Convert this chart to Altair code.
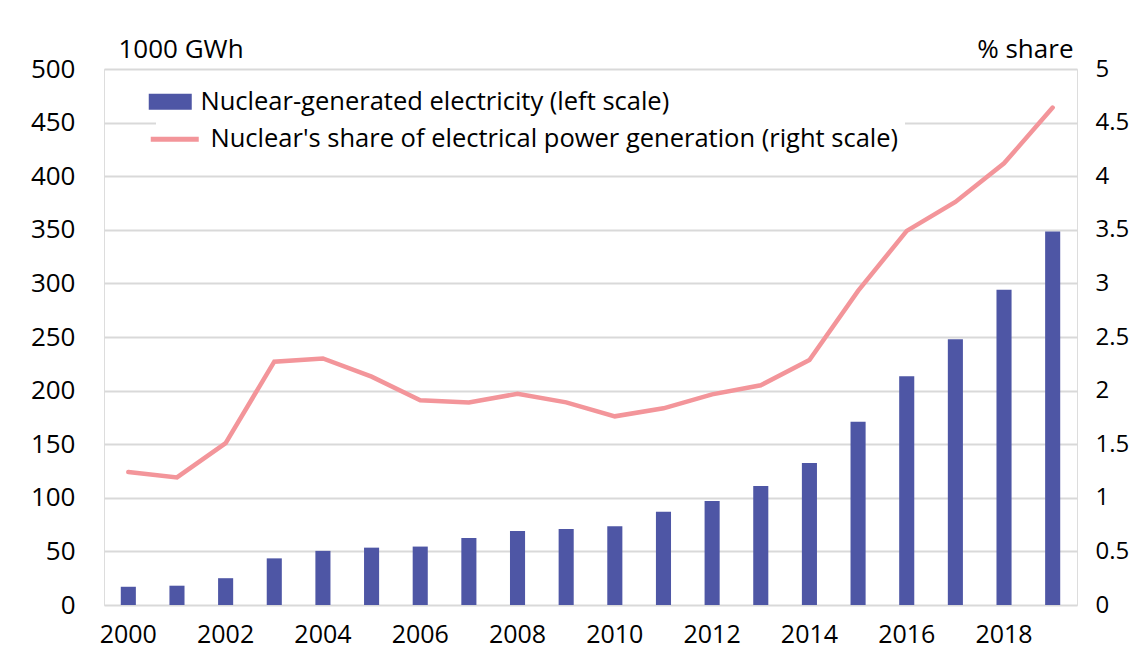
import altair as alt
import pandas as pd

years = [str(y) for y in range(2000, 2020)]
generation = [17, 18, 25, 43.5, 50.5, 53.5, 54.5, 62.5, 69, 71, 73.5, 87, 97, 111, 132.5,
              171, 213.5, 248, 294, 348.5]
share = [1.24, 1.19, 1.51, 2.27, 2.30, 2.13, 1.91, 1.89, 1.97, 1.89, 1.76, 1.835, 1.965,
         2.05, 2.285, 2.93, 3.49, 3.76, 4.12, 4.64]
left_ticks = list(range(0, 501, 50))
right_ticks = [i / 2 for i in range(0, 11)]
x_ticks = [str(y) for y in range(2000, 2020, 2)]
bar_name = "Nuclear-generated electricity (left scale)"
line_name = "Nuclear's share of electrical power generation (right scale)"

BLUE = "#4E56A5"
PINK = "#F3959A"
FONT = "Open Sans"

df = pd.DataFrame({
    "year": years,
    "gen": generation,
    "share": share,
    "s1": [bar_name] * len(years),
    "s2": [line_name] * len(years),
})

xenc = alt.X("year:O", title=None,
             scale=alt.Scale(paddingInner=0.69, paddingOuter=0.345),
             axis=alt.Axis(values=x_ticks, labelAngle=0, ticks=False, tickSize=0,
                           domain=False, labelPadding=17, labelFontSize=25,
                           labelFont=FONT, labelColor="black"))

bars = alt.Chart(df).mark_bar(color=BLUE).encode(
    x=xenc,
    y=alt.Y("gen:Q", scale=alt.Scale(domain=[0, 500], nice=False),
            axis=alt.Axis(values=left_ticks, title="1000 GWh", titleAngle=0,
                          titleAlign="left", titleBaseline="middle", titleX=14, titleY=-20,
                          titleFontSize=26, titleFont=FONT, titleFontWeight="normal",
                          titleColor="black",
                          grid=True, gridColor="#D9D9D9", gridWidth=2,
                          ticks=False, tickSize=0, domain=False, labelPadding=29,
                          labelFontSize=26, labelFont=FONT, labelColor="black")),
    fill=alt.Fill("s1:N", scale=alt.Scale(domain=[bar_name], range=[BLUE]),
                  legend=alt.Legend(title=None, orient="none", legendX=49.5, legendY=16,
                                    symbolType="M-2.15,-0.8L2.15,-0.8L2.15,0.8L-2.15,0.8Z",
                                    symbolSize=400, symbolStrokeWidth=0,
                                    labelOffset=17.5, labelFontSize=25.5, labelFont=FONT,
                                    labelColor="black", padding=4, fillColor="white",
                                    labelLimit=900)),
)

line = alt.Chart(df).mark_line(color=PINK, strokeWidth=4.5, strokeCap="round").encode(
    x=xenc,
    y=alt.Y("share:Q", scale=alt.Scale(domain=[0, 5], nice=False),
            axis=alt.Axis(orient="right", values=right_ticks, format="~g",
                          title="% share", titleAngle=0, titleAlign="right",
                          titleBaseline="middle", titleX=-4, titleY=-20,
                          titleFontSize=26, titleFont=FONT, titleFontWeight="normal",
                          titleColor="black",
                          grid=False, ticks=False, tickSize=0, domain=False,
                          labelPadding=18, labelFontSize=24, labelFont=FONT,
                          labelColor="black")),
    stroke=alt.Stroke("s2:N", scale=alt.Scale(domain=[line_name], range=[PINK]),
                      legend=alt.Legend(title=None, orient="none", legendX=52, legendY=51.5,
                                        symbolType="M-4.8,0L4.8,0", symbolSize=100,
                                        symbolStrokeWidth=5, labelOffset=23,
                                        labelFontSize=25.5, labelFont=FONT,
                                        labelColor="black", padding=6, fillColor="white",
                                        labelLimit=900)),
)

chart = alt.layer(bars, line).resolve_scale(
    y="independent", fill="independent", stroke="independent"
).properties(
    width=973, height=536,
    autosize=alt.AutoSizeParams(type="none"),
    padding={"left": 96, "top": 61, "right": 52, "bottom": 45},
).configure_view(stroke="black", strokeWidth=2).configure(background="white")

chart.save("out.html", embed_options={"renderer": "svg", "actions": False})
